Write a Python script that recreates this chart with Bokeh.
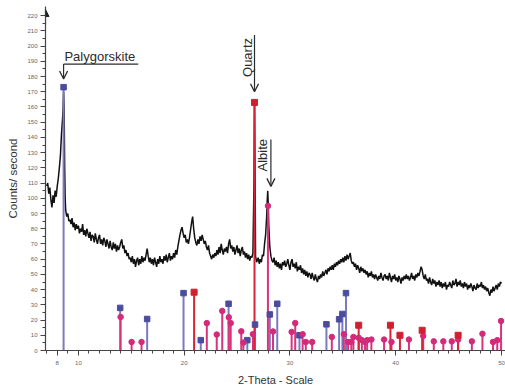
import numpy as np
from bokeh.plotting import figure
from bokeh.models import FixedTicker, Label, Arrow, OpenHead, NormalHead, Range1d, ColumnDataSource
from bokeh.embed import file_html
from bokeh.resources import INLINE

# ---------------- measured diffraction pattern (2-theta, counts/s) ----------------
theta_a = [7.0, 7.1, 7.2, 7.3, 7.4, 7.5, 7.6, 7.7, 7.8, 7.9, 8.0, 8.1, 8.2, 8.3,
           8.4, 8.5, 8.55, 8.6, 8.65, 8.7, 8.75, 8.8, 8.9, 9.0, 9.1]
counts_a = [108, 110, 103, 107, 99, 94, 102, 97, 105, 101, 108, 113, 120, 128,
            142, 152, 158, 170, 160, 122, 100, 92, 88, 90, 85]

start_b = 9.2
step_b = 0.1
counts_b = [
    86, 83, 87, 81, 84, 79, 83, 80,              # 9.2 - 9.9
    82, 77, 80, 78, 83, 76, 79, 75, 80, 77,      # 10
    74, 78, 72, 76, 75, 71, 77, 73, 70, 74,      # 11
    76, 70, 73, 69, 74, 72, 68, 73, 70, 67,      # 12
    72, 68, 66, 71, 67, 70, 65, 69, 66, 68,      # 13
    71, 73, 67, 69, 64, 66, 62, 64, 60, 61,      # 14
    58, 62, 57, 60, 55, 59, 61, 56, 60, 57,      # 15
    62, 58, 61, 59, 63, 67, 62, 58, 61, 57,      # 16
    60, 56, 61, 58, 55, 60, 57, 62, 58, 60,      # 17
    57, 62, 59, 63, 58, 61, 64, 59, 62, 60,      # 18
    64, 61, 66, 63, 68, 72, 76, 79, 81, 77,      # 19
    74, 76, 71, 73, 70, 74, 79, 84, 88, 80,      # 20
    74, 71, 69, 73, 70, 75, 72, 76, 73, 70,      # 21
    72, 68, 66, 69, 64, 62, 60, 63, 61, 64,      # 22
    62, 66, 63, 68, 64, 70, 66, 63, 67, 65,      # 23
    68, 64, 70, 73, 67, 69, 65, 68, 63, 66,      # 24
    69, 64, 67, 62, 66, 68, 63, 65, 61, 64,      # 25
    60, 63, 59, 62, 61,                          # 26.0 - 26.4
]

theta_c = [26.5, 26.6, 26.65, 26.7, 26.75, 26.85, 27.0, 27.1, 27.2, 27.3, 27.4,
           27.5, 27.6, 27.7, 27.8, 27.85, 27.9, 27.95, 28.0, 28.1, 28.2, 28.3]
counts_c = [64, 110, 163, 120, 62, 58, 61, 57, 60, 58, 63,
            62, 70, 76, 88, 98, 105, 96, 82, 68, 62, 59]

start_d = 28.4
step_d = 0.1
counts_d = [
    58, 61, 56, 59, 55, 58,                      # 28.4 - 28.9
    54, 57, 53, 58, 56, 59, 55, 57, 60, 56,      # 29
    53, 58, 60, 55, 57, 54, 58, 52, 55, 53,      # 30
    56, 51, 54, 50, 53, 49, 52, 48, 51, 50,      # 31
    47, 51, 48, 46, 50, 47, 45, 49, 47, 50,      # 32
    48, 52, 49, 51, 53, 50, 54, 52, 55, 53,      # 33
    56, 53, 57, 55, 58, 56, 59, 57, 60, 58,      # 34
    61, 58, 62, 59, 63, 60, 62, 64, 59, 57,      # 35
    58, 55, 57, 53, 56, 54, 51, 55, 52, 54,      # 36
    51, 53, 50, 52, 48, 51, 49, 52, 48, 50,      # 37
    47, 50, 48, 46, 49, 47, 51, 48, 46, 49,      # 38
    50, 47, 49, 46, 51, 48, 45, 49, 47, 50,      # 39
    46, 48, 45, 49, 47, 44, 48, 46, 49, 47,      # 40
    50, 47, 49, 46, 48, 51, 47, 49, 46, 50,      # 41
    48, 51, 49, 52, 55, 53, 49, 47, 50, 46,      # 42
    47, 44, 48, 45, 43, 47, 44, 46, 42, 45,      # 43
    43, 46, 42, 45, 41, 44, 42, 45, 40, 43,      # 44
    42, 45, 43, 41, 46, 43, 44, 47, 42, 45,      # 45
    43, 46, 42, 44, 41, 45, 42, 44, 40, 43,      # 46
    41, 44, 42, 39, 43, 41, 40, 44, 41, 43,      # 47
    42, 45, 41, 43, 40, 42, 39, 41, 38, 36,      # 48
    40, 38, 42, 39, 41, 43, 40, 44, 42, 45,      # 49
    44,                                          # 50.0
]

# ---------------- reference stick patterns ----------------
paly_theta = [8.6, 13.95, 16.5, 19.94, 21.57, 24.2, 25.97, 26.7, 28.1, 28.8,
              30.9, 33.45, 34.65, 34.96, 35.3]
paly_val = [173, 28, 20.7, 37.7, 6.8, 30.7, 6.8, 17, 23.7, 30.7,
            10, 17.2, 20.5, 24, 37.7]

quartz_theta = [20.94, 26.65, 36.5, 39.5, 40.4, 42.5, 45.9]
quartz_val = [38.3, 163, 16.6, 16.6, 10, 13.3, 10]

albite_theta = [13.99, 15.03, 15.97, 22.14, 23.08, 23.6, 24.22, 24.4, 25.4, 25.6,
                26.5, 27.92, 28.4, 30.16, 30.5, 31.2, 31.5, 32.1, 33.96, 35.1,
                35.5, 35.8, 36.0, 36.5, 36.8, 37.1, 37.3, 37.7, 38.9, 39.6,
                41.25, 42.6, 43.6, 44.5, 45.3, 45.9, 47.2, 48.2, 49.2, 49.6, 49.96]
albite_val = [22, 5.6, 5.6, 18, 10.5, 26, 21.8, 18, 12.6, 5.2,
              10.7, 95, 12.5, 12.2, 18, 10.7, 5.6, 5.6, 8.9, 10.7,
              5.6, 5.6, 8.9, 8.3, 6.8, 5.6, 6.8, 7.2, 7.2, 5.6,
              7.2, 9.6, 6, 6, 6, 7.2, 6, 11, 5.6, 6.8, 19.4]

x_ticks = [8, 10, 20, 30, 40, 50]
y_ticks = list(range(0, 221, 10))

# ---------------- build ----------------
theta = np.concatenate([
    np.array(theta_a),
    start_b + step_b * np.arange(len(counts_b)),
    np.array(theta_c),
    start_d + step_d * np.arange(len(counts_d)),
])
counts = np.concatenate([counts_a, counts_b, counts_c, counts_d]).astype(float)

FONT = "Liberation Sans"
INK = "#2b2b2b"

p = figure(width=505, height=388,
           x_range=Range1d(6.89, 50.38), y_range=Range1d(0, 226),
           output_backend="svg", toolbar_location=None,
           min_border_left=45, min_border_right=0,
           min_border_top=6, min_border_bottom=36)
p.xgrid.visible = False
p.ygrid.visible = False
p.outline_line_color = None
p.background_fill_color = "white"

p.line(theta, counts, line_color="#111111", line_width=1.5)

# stick patterns
src_p = ColumnDataSource(dict(x=paly_theta, y=paly_val, y0=[0] * len(paly_val)))
src_q = ColumnDataSource(dict(x=quartz_theta, y=quartz_val, y0=[0] * len(quartz_val)))
src_a = ColumnDataSource(dict(x=albite_theta, y=albite_val, y0=[0] * len(albite_val)))

p.segment(x0="x", y0="y0", x1="x", y1="y", source=src_p, line_color="#7a7ac0", line_width=2)
p.segment(x0="x", y0="y0", x1="x", y1="y", source=src_a, line_color="#d8337f", line_width=2)
p.segment(x0="x", y0="y0", x1="x", y1="y", source=src_q, line_color="#d92335", line_width=2)

p.scatter(x="x", y="y", source=src_p, marker="square", size=5.5,
          fill_color="#4c4c9c", line_color="#4c4c9c")
p.scatter(x="x", y="y", source=src_a, marker="circle", size=5.5,
          fill_color="#d42a7a", line_color="#d42a7a")
p.scatter(x="x", y="y", source=src_q, marker="square", size=6,
          fill_color="#d11f30", line_color="#d11f30")

# axes
p.xaxis.ticker = FixedTicker(ticks=x_ticks, minor_ticks=list(range(7, 51)))
p.yaxis.ticker = FixedTicker(ticks=y_ticks, minor_ticks=list(range(0, 225, 5)))
for ax in (p.xaxis[0], p.yaxis[0]):
    ax.axis_line_color = "#444444"
    ax.axis_line_width = 1.2
    ax.major_tick_line_color = "#444444"
    ax.minor_tick_line_color = "#444444"
    ax.major_tick_in = 0
    ax.minor_tick_in = 0
    ax.major_tick_out = 5
    ax.minor_tick_out = 3
    ax.major_label_text_font = FONT
    ax.major_label_text_font_size = "6px"
    ax.major_label_text_color = "#666666"
    ax.axis_label_text_font = FONT
    ax.axis_label_text_font_style = "normal"
    ax.axis_label_text_color = "#333333"

p.xaxis.axis_label = "2-Theta - Scale"
p.xaxis.axis_label_text_font_size = "11px"
p.xaxis.major_label_standoff = 5
p.xaxis.axis_label_standoff = 6

p.yaxis.axis_label = "Counts/ second"
p.yaxis.axis_label_text_font_size = "11.5px"
p.yaxis.major_label_standoff = 3
p.yaxis.axis_label_standoff = 5

# arrow head at top of y axis
p.add_layout(Arrow(end=NormalHead(size=7, fill_color="#222222", line_color="#222222"),
                   x_start=6.89, y_start=214, x_end=6.89, y_end=224,
                   line_color="#444444", line_width=1.2))

# ---------------- phase annotations ----------------
head = dict(size=8, line_color=INK, line_width=1.3)
label_style = dict(text_font=FONT, text_font_size="13px", text_color=INK,
                   text_baseline="middle", text_align="left")

# Palygorskite
pk = paly_theta[0]
p.add_layout(Label(x=pk + 0.08, y=193.0, text="Palygorskite", **label_style))
p.add_layout(Arrow(end=None, x_start=pk, y_start=188.2, x_end=15.66, y_end=188.2,
                   line_color=INK, line_width=1.2))
p.add_layout(Arrow(end=OpenHead(**head), x_start=pk, y_start=188.2, x_end=pk, y_end=178.4,
                   line_color=INK, line_width=1.2))

# Quartz
qk = quartz_theta[1]
p.add_layout(Label(x=qk - 0.66, y=179.7, angle=np.pi / 2, text="Quartz", **label_style))
p.add_layout(Arrow(end=OpenHead(**head), x_start=qk, y_start=207.2, x_end=qk, y_end=170,
                   line_color=INK, line_width=1.2))

# Albite
ak = albite_theta[11]
p.add_layout(Label(x=ak - 0.47, y=117.6, angle=np.pi / 2, text="Albite", **label_style))
p.add_layout(Arrow(end=OpenHead(**head), x_start=ak + 0.28, y_start=138.6, x_end=ak + 0.28,
                   y_end=107.8, line_color=INK, line_width=1.2))

open("out.html", "w").write(file_html(p, INLINE))
